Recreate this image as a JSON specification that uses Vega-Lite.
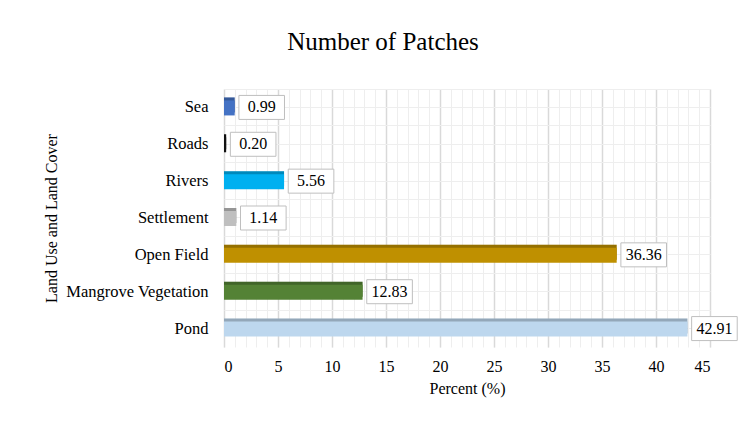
{
  "$schema": "https://vega.github.io/schema/vega-lite/v6.json",
  "width": 486,
  "height": 258,
  "autosize": {"type": "none"},
  "padding": {"left": 224, "top": 89, "right": 38, "bottom": 74},
  "background": "white",
  "title": {"text": "Number of Patches", "font": "Liberation Serif", "fontSize": 25, "fontWeight": "normal", "color": "#000000", "anchor": "middle", "frame": "group", "dx": -84, "offset": 34},
  "config": {"view": {"stroke": null}, "font": "Liberation Serif"},
  "data": {"values": [
    {"Category": "Sea", "Percent": 0.99, "Label": "0.99"},
    {"Category": "Roads", "Percent": 0.20, "Label": "0.20"},
    {"Category": "Rivers", "Percent": 5.56, "Label": "5.56"},
    {"Category": "Settlement", "Percent": 1.14, "Label": "1.14"},
    {"Category": "Open Field", "Percent": 36.36, "Label": "36.36"},
    {"Category": "Mangrove Vegetation", "Percent": 12.83, "Label": "12.83"},
    {"Category": "Pond", "Percent": 42.91, "Label": "42.91"}
  ]},
  "resolve": {"axis": {"x": "independent", "y": "independent"}},
  "layer": [
    {
      "mark": {"type": "bar", "size": 15, "yOffset": -2.5},
      "encoding": {
        "x": {"field": "Percent", "type": "quantitative", "scale": {"domain": [0, 45], "nice": false},
              "axis": {"orient": "bottom", "values": [0,1,2,3,4,5,6,7,8,9,10,11,12,13,14,15,16,17,18,19,20,21,22,23,24,25,26,27,28,29,30,31,32,33,34,35,36,37,38,39,40,41,42,43,44,45], "labels": false, "ticks": false, "domain": false, "title": null, "grid": true, "gridColor": "#EEEEEE", "gridWidth": 1}},
        "y": {"field": "Category", "type": "nominal", "sort": ["Sea","Roads","Rivers","Settlement","Open Field","Mangrove Vegetation","Pond"],
              "scale": {"paddingInner": 0, "paddingOuter": 0},
              "axis": {"orient": "left", "bandPosition": 0, "labels": false, "ticks": false, "domain": false, "title": null, "grid": true, "gridColor": "#EEEEEE", "gridWidth": 1}},
        "color": {"field": "Category", "type": "nominal", "legend": null,
                  "scale": {"domain": ["Sea","Roads","Rivers","Settlement","Open Field","Mangrove Vegetation","Pond"],
                            "range": ["#4472C4","#111111","#00B0F0","#BFBFBF","#BF9000","#548235","#BDD7EE"]}}
      }
    },
    {
      "mark": {"type": "bar", "size": 15, "yOffset": -2.5, "fill": "#000000", "opacity": 0.22},
      "encoding": {
        "x": {"field": "Percent", "type": "quantitative",
              "axis": {"orient": "bottom", "values": [0,5,10,15,20,25,30,35,40,45], "labelFont": "Liberation Serif", "labelFontSize": 16, "labelColor": "#000000", "labelPadding": 11, "ticks": false, "domain": false,
                       "title": "Percent (%)", "titleFont": "Liberation Serif", "titleFontSize": 16, "titleFontWeight": "normal", "titleColor": "#000000", "titlePadding": 6,
                       "grid": true, "gridColor": "#D9D9D9", "gridWidth": 1.5}},
        "y": {"field": "Category", "type": "nominal", "sort": ["Sea","Roads","Rivers","Settlement","Open Field","Mangrove Vegetation","Pond"],
              "axis": {"orient": "left", "labelFont": "Liberation Serif", "labelFontSize": 16.5, "labelColor": "#000000", "labelPadding": 16, "ticks": false, "domain": false,
                       "title": "Land Use and Land Cover", "titleFont": "Liberation Serif", "titleFontSize": 16, "titleFontWeight": "normal", "titleColor": "#000000", "titlePadding": 6,
                       "grid": true, "gridColor": "#EEEEEE", "gridWidth": 1}}
      }
    },
    {
      "mark": {"type": "bar", "size": 15, "yOffset": 0.5},
      "encoding": {
        "x": {"field": "Percent", "type": "quantitative", "axis": null},
        "y": {"field": "Category", "type": "nominal", "sort": ["Sea","Roads","Rivers","Settlement","Open Field","Mangrove Vegetation","Pond"], "axis": null},
        "color": {"field": "Category", "type": "nominal", "legend": null}
      }
    },
    {
      "mark": {"type": "point", "shape": "M-0.95,-0.5H0.95V0.5H-0.95Z", "size": 2304, "filled": true, "fill": "#FFFFFF", "stroke": "#BFBFBF", "strokeWidth": 1, "opacity": 1, "xOffset": 27},
      "encoding": {
        "x": {"field": "Percent", "type": "quantitative", "axis": null},
        "y": {"field": "Category", "type": "nominal", "sort": ["Sea","Roads","Rivers","Settlement","Open Field","Mangrove Vegetation","Pond"], "axis": null}
      }
    },
    {
      "mark": {"type": "text", "font": "Liberation Serif", "fontSize": 16, "color": "#000000", "align": "center", "baseline": "middle", "xOffset": 27},
      "encoding": {
        "x": {"field": "Percent", "type": "quantitative", "axis": null},
        "y": {"field": "Category", "type": "nominal", "sort": ["Sea","Roads","Rivers","Settlement","Open Field","Mangrove Vegetation","Pond"], "axis": null},
        "text": {"field": "Label", "type": "nominal"}
      }
    }
  ]
}
